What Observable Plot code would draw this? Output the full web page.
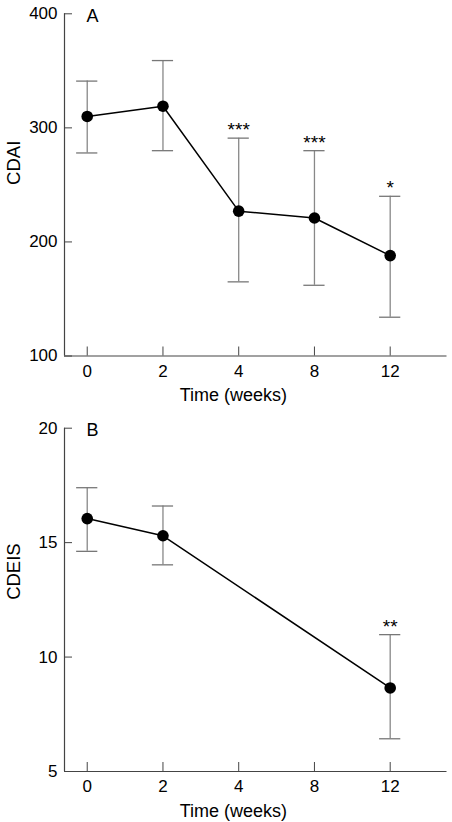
<!DOCTYPE html>
<html><head><meta charset="utf-8">
<script src="https://cdn.jsdelivr.net/npm/d3@7"></script>
<script src="https://cdn.jsdelivr.net/npm/@observablehq/plot@0.6"></script>
<style>body{margin:0;background:#fff} svg{display:block}</style>
</head><body><div id="chart"></div>
<script>
// Shared x categories (evenly spaced)
const weeks = ["0", "2", "4", "8", "12"];

// Panel A: CDAI
const cdaiWeeks = ["0", "2", "4", "8", "12"];
const cdaiMean = [310, 319, 227, 221, 188];
const cdaiHi = [341, 359, 291, 280, 240];
const cdaiLo = [278, 280, 165, 162, 134];
const cdaiSig = ["", "", "***", "***", "*"];
const cdaiTicks = [100, 200, 300, 400];

// Panel B: CDEIS
const cdeisWeeks = ["0", "2", "12"];
const cdeisMean = [16.05, 15.3, 8.65];
const cdeisHi = [17.4, 16.6, 10.98];
const cdeisLo = [14.62, 14.03, 6.43];
const cdeisSig = ["", "", "**"];
const cdeisTicks = [5, 10, 15, 20];

const FONT = "'Liberation Sans', Arial, sans-serif";
const capHalf = 0.14;

function panel({letter, label, wk, mean, hi, lo, sig, ticks, height, marginTop, marginBottom}) {
  const data = wk.map((w, j) => ({i: weeks.indexOf(w), m: mean[j], hi: hi[j], lo: lo[j], s: sig[j]}));
  const xDom = [-0.3, weeks.length - 0.25];
  const yDom = [ticks[0], ticks[ticks.length - 1]];
  return Plot.plot({
    width: 452, height, marginLeft: 64, marginRight: 5.5, marginTop, marginBottom,
    style: {fontFamily: FONT, fontSize: "17px", color: "#000", background: "#fff"},
    x: {type: "linear", domain: xDom},
    y: {domain: yDom},
    marks: [
      Plot.ruleY([yDom[0]], {stroke: "#444", strokeWidth: 1.2}),
      Plot.ruleX([xDom[0]], {stroke: "#444", strokeWidth: 1.2}),
      Plot.axisX({ticks: weeks.map((w, i) => i), tickFormat: i => weeks[i], tickSize: -9, tickPadding: 17.5, stroke: "#444", label: null, fontSize: 17}),
      Plot.axisY({ticks, tickSize: -8, tickPadding: 15, stroke: "#444", label: null, fontSize: 17}),
      Plot.ruleX(data, {x: "i", y1: "lo", y2: "hi", stroke: "#888", strokeWidth: 1.3}),
      Plot.ruleY(data, {y: "hi", x1: d => d.i - capHalf, x2: d => d.i + capHalf, stroke: "#777", strokeWidth: 1.3}),
      Plot.ruleY(data, {y: "lo", x1: d => d.i - capHalf, x2: d => d.i + capHalf, stroke: "#777", strokeWidth: 1.3}),
      Plot.line(data, {x: "i", y: "m", stroke: "#000", strokeWidth: 1.5}),
      Plot.dot(data, {x: "i", y: "m", r: 5.8, fill: "#000", stroke: "none"}),
      Plot.text(data.filter(d => d.s), {x: "i", y: "hi", text: "s", dy: -8, fontSize: 19, fill: "#000", style: "letter-spacing:1px"}),
      Plot.text([label], {frameAnchor: "left", rotate: -90, dx: -50.5, fontSize: 18.5, fill: "#000"}),
      Plot.text([letter], {frameAnchor: "top-left", dx: 22, dy: 2, lineAnchor: "middle", fontSize: 18, fill: "#000"}),
      Plot.text(["Time (weeks)"], {x: (weeks.length - 1) / 2 - 0.07, frameAnchor: "bottom", dy: 45, fontSize: 18, fill: "#000"})
    ]
  });
}

const root = document.getElementById("chart");
root.append(panel({letter: "A", label: "CDAI", wk: cdaiWeeks, mean: cdaiMean, hi: cdaiHi, lo: cdaiLo, sig: cdaiSig, ticks: cdaiTicks, height: 410, marginTop: 13.3, marginBottom: 54.5}));
root.append(panel({letter: "B", label: "CDEIS", wk: cdeisWeeks, mean: cdeisMean, hi: cdeisHi, lo: cdeisLo, sig: cdeisSig, ticks: cdeisTicks, height: 412, marginTop: 17.7, marginBottom: 51}));
</script>
</body></html>
